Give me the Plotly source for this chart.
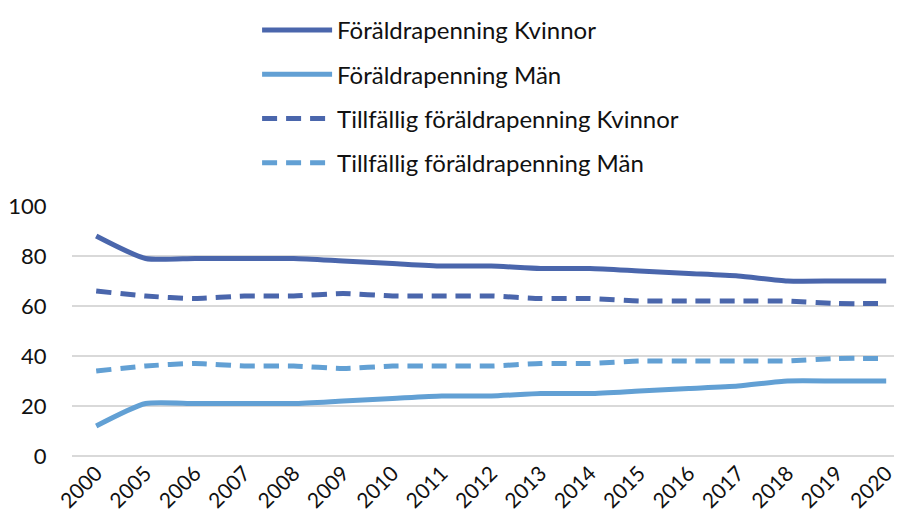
import plotly.graph_objects as go

# years on the x axis (category axis, 2001-2004 not shown)
years = ['2000', '2005', '2006', '2007', '2008', '2009', '2010', '2011', '2012',
         '2013', '2014', '2015', '2016', '2017', '2018', '2019', '2020']

# share in percent
fp_kvinnor = [88, 79, 79, 79, 79, 78, 77, 76, 76, 75, 75, 74, 73, 72, 70, 70, 70]
fp_man = [12, 21, 21, 21, 21, 22, 23, 24, 24, 25, 25, 26, 27, 28, 30, 30, 30]
tfp_kvinnor = [66, 64, 63, 64, 64, 65, 64, 64, 64, 63, 63, 62, 62, 62, 62, 61, 61]
tfp_man = [34, 36, 37, 36, 36, 35, 36, 36, 36, 37, 37, 38, 38, 38, 38, 39, 39]

series_names = ['Föräldrapenning Kvinnor', 'Föräldrapenning Män',
                'Tillfällig föräldrapenning Kvinnor', 'Tillfällig föräldrapenning Män']

dark_blue = '#4A66AC'
light_blue = '#62A0D4'

fig = go.Figure()
styles = [(fp_kvinnor, dark_blue, 'solid'),
          (fp_man, light_blue, 'solid'),
          (tfp_kvinnor, dark_blue, '15px,9px'),
          (tfp_man, light_blue, '15px,9px')]

for i, (vals, color, dash) in enumerate(styles):
    fig.add_trace(go.Scatter(
        x=years, y=vals, name=series_names[i], mode='lines',
        line=dict(color=color, width=5, dash=dash, shape='spline', smoothing=0.6),
        legendgroup=str(i), cliponaxis=False))

# page body has an 8px margin, so the figure is 8px smaller than the window
fig.update_layout(
    width=894, height=520,
    margin=dict(l=64, r=0, t=198, b=72),
    plot_bgcolor='white', paper_bgcolor='white',
    font=dict(family='Lato, sans-serif', size=21, color='#111111'),
    showlegend=True,
    legend=dict(x=0.223, y=1.01, xanchor='left', yanchor='top', yref='container',
                traceorder='grouped', tracegroupgap=10, itemwidth=70,
                font=dict(size=24), bgcolor='rgba(0,0,0,0)'),
    xaxis=dict(type='category', range=[-0.49, 16.32], tickangle=-45,
               showgrid=False, showline=False, zeroline=False, automargin=False,
               ticks='', tickfont=dict(size=21)),
    yaxis=dict(range=[0, 100], dtick=20, showgrid=True, gridcolor='#D9D9D9',
               gridwidth=1.5, zeroline=True, zerolinecolor='#D9D9D9', zerolinewidth=1.5,
               showline=False, ticks='outside', ticklen=20, tickcolor='rgba(0,0,0,0)',
               automargin=False, tickfont=dict(size=22)),
)

fig.write_html('out.html')
